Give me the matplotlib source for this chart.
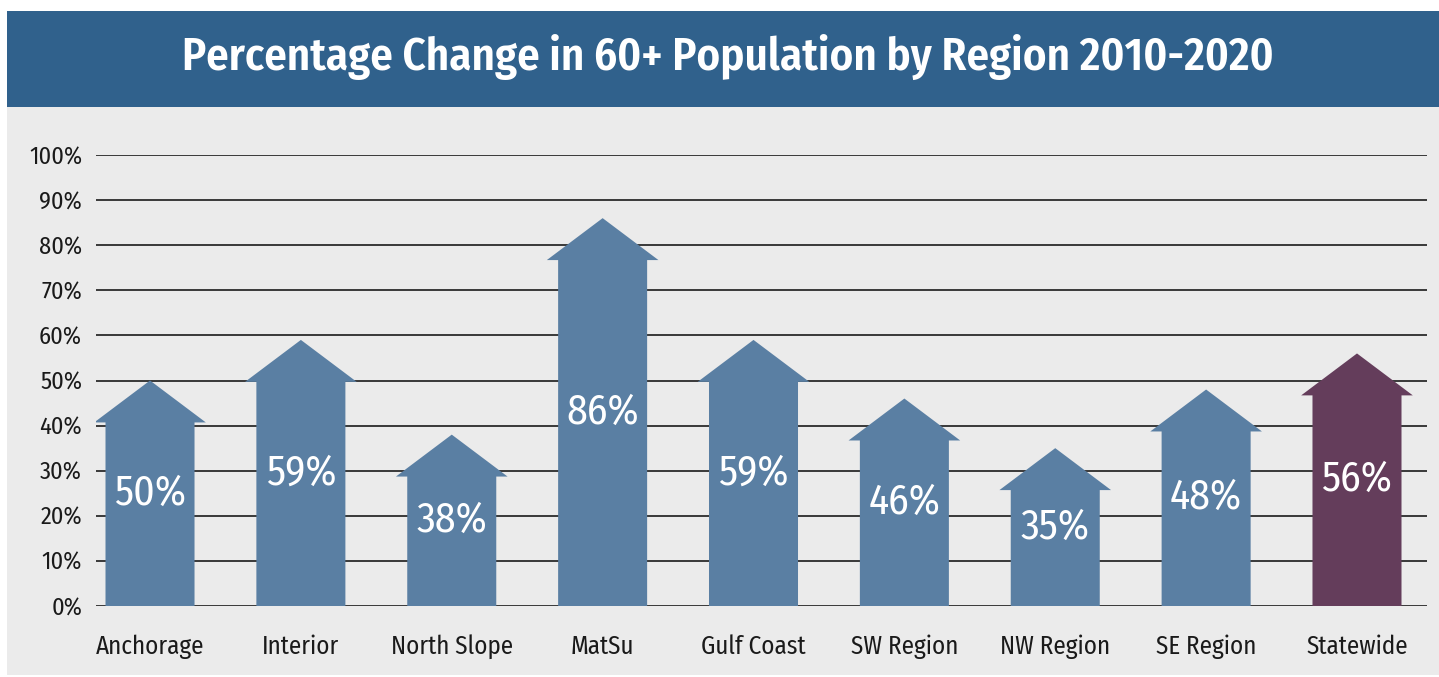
import matplotlib.pyplot as plt
from matplotlib.patches import Polygon, Rectangle
import numpy as np

regions = ["Anchorage", "Interior", "North Slope", "MatSu", "Gulf Coast",
           "SW Region", "NW Region", "SE Region", "Statewide"]
change = [50, 59, 38, 86, 59, 46, 35, 48, 56]
yticks = [0, 10, 20, 30, 40, 50, 60, 70, 80, 90, 100]

BLUE = "#5a7fa3"
PURPLE = "#643d5b"
BAND = "#30618c"
PANEL = "#ebebeb"

plt.rcParams["font.family"] = ["Fira Sans Condensed", "Roboto Condensed",
                               "Archivo Narrow", "Sofia Sans Condensed",
                               "DejaVu Sans"]

fig = plt.figure(figsize=(14.39, 6.77), dpi=100)
fig.patch.set_facecolor("white")

# grey panel and title band, in figure coordinates
fig.add_artist(Rectangle((7 / 1439, 2 / 677), 1, 570 / 677,
                         transform=fig.transFigure, facecolor=PANEL,
                         edgecolor="none", zorder=0))
fig.add_artist(Rectangle((7 / 1439, 570 / 677), 1, 96 / 677,
                         transform=fig.transFigure, facecolor=BAND,
                         edgecolor="none", zorder=0))
fig.text(0.506, 620 / 677, "Percentage Change in 60+ Population by Region 2010-2020",
         ha="center", va="center", color="white", fontsize=32.3,
         fontweight="semibold")

ax = fig.add_axes([96 / 1439, 71 / 677, 1331 / 1439, 451 / 677])
ax.set_facecolor("none")

x = np.arange(len(regions))
shaft = 0.59
head = 0.74
head_h = 9.3

for xi, val, name in zip(x, change, regions):
    color = PURPLE if name == "Statewide" else BLUE
    pts = [(xi - shaft / 2, 0), (xi + shaft / 2, 0),
           (xi + shaft / 2, val - head_h), (xi + head / 2, val - head_h),
           (xi, val), (xi - head / 2, val - head_h),
           (xi - shaft / 2, val - head_h)]
    ax.add_patch(Polygon(pts, closed=True, facecolor=color,
                         edgecolor="none", zorder=3))
    ax.text(xi, val / 2, f"{val}%", ha="center", va="center",
            color="white", fontsize=30, fontweight="normal", zorder=4)

ax.set_xlim(-0.358, 8.464)
ax.set_ylim(0, 100)
ax.set_yticks(yticks)
ax.set_yticklabels([f"{t}%" for t in yticks])
ax.set_xticks(x)
ax.set_xticklabels(regions)
ax.grid(axis="y", color="#2b2b2b", linewidth=1.3, zorder=1)
ax.set_axisbelow(True)
ax.tick_params(axis="y", length=0, pad=10, labelsize=17.5, labelcolor="#1a1a1a")
ax.tick_params(axis="x", length=0, pad=20, labelsize=18, labelcolor="#1a1a1a")
for s in ax.spines.values():
    s.set_visible(False)

fig.savefig("out.png", dpi=100, facecolor="white")
